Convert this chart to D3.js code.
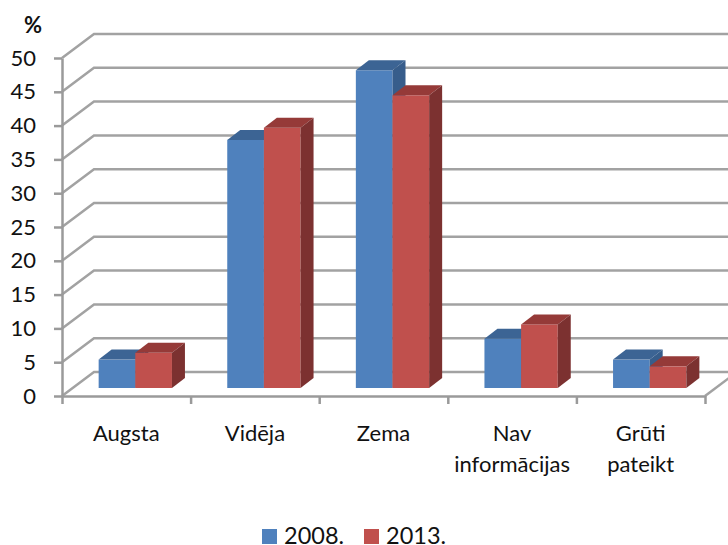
<!DOCTYPE html>
<html>
<head>
<meta charset="utf-8">
<script src="https://cdn.jsdelivr.net/npm/d3@7"></script>
<style>
body { margin: 0; background: #fff; }
svg { display: block; }
text { font-family: Lato, "Open Sans", sans-serif; fill: #111; }
.domain, .tick line { stroke: #9a9a9a; stroke-width: 2.5; }
.grid { stroke: #a2a2a2; stroke-width: 2.5; fill: none; }
</style>
</head>
<body>
<div id="chart"></div>
<script>
// data
var categories = [["Augsta"], ["Vidēja"], ["Zema"], ["Nav", "informācijas"], ["Grūti", "pateikt"]];
var seriesNames = ["2008.", "2013."];
var values2008 = [4.2, 36.7, 47.0, 7.3, 4.2];
var values2013 = [5.2, 38.5, 43.3, 9.4, 3.2];
var yTicks = [0, 5, 10, 15, 20, 25, 30, 35, 40, 45, 50];

var colors = [
  {front: "#4f81bd", top: "#3c6494", side: "#375d8b"},
  {front: "#c0504d", top: "#953a38", side: "#7c3130"}
];

var margin = {top: 58, left: 62},
    width = 643,
    height = 338;

// 3d offsets: wall depth, bar depth, and where the bars stand on the floor
var wall = {dx: 32, dy: -24},
    barDepth = {dx: 13, dy: -10},
    barPos = {dx: 9, dy: -8};

var svg = d3.select("#chart").append("svg")
    .attr("width", 728)
    .attr("height", 545);
var g = svg.append("g")
    .attr("transform", "translate(" + margin.left + "," + margin.top + ")");

var names = categories.map(function(d) { return d.join(" "); });
var x = d3.scaleBand().domain(names).range([0, width]);
var xEdge = d3.scaleLinear().domain([0, names.length]).range([0, width]);
var y = d3.scaleLinear().domain([0, 50]).range([height, 0]);
var inner = d3.scaleBand().domain(seriesNames).range([x.bandwidth() * 0.215, x.bandwidth() * 0.785]);

// walls
yTicks.forEach(function(t) {
  g.append("polyline").attr("class", "grid")
    .attr("points", [[0, y(t)], [wall.dx, y(t) + wall.dy], [width + wall.dx, y(t) + wall.dy]].join(" "));
});
g.append("line").attr("class", "grid")
  .attr("x1", width).attr("y1", height)
  .attr("x2", width + wall.dx).attr("y2", height + wall.dy);

// axes
var yAxis = d3.axisLeft(y).tickValues(yTicks).tickSize(8).tickSizeOuter(0).tickPadding(18);
g.append("g").call(yAxis)
  .selectAll("text").style("font-size", "22px");

var xAxis = d3.axisBottom(xEdge).tickValues(d3.range(names.length + 1))
    .tickFormat("").tickSize(8).tickSizeOuter(0);
g.append("g").attr("transform", "translate(0," + height + ")").call(xAxis);

// category labels
g.selectAll(".cat").data(categories).enter().append("text")
    .attr("class", "cat")
    .attr("text-anchor", "middle")
    .style("font-size", "22px")
    .attr("transform", function(d) {
      return "translate(" + (x(d.join(" ")) + x.bandwidth() / 2) + "," + (height + 45) + ")";
    })
  .selectAll("tspan").data(function(d) { return d; }).enter().append("tspan")
    .attr("x", 0)
    .attr("dy", function(d, i) { return i ? 31 : 0; })
    .text(function(d) { return d; });

// bars
[values2008, values2013].forEach(function(vals, s) {
  var bw = inner.bandwidth(), c = colors[s];
  var bars = g.selectAll(".bar" + s).data(vals).enter().append("g")
      .attr("class", "bar" + s)
      .attr("transform", function(d, i) {
        return "translate(" + (x(names[i]) + inner(seriesNames[s]) + barPos.dx) + "," + barPos.dy + ")";
      });
  bars.append("rect")
      .attr("y", function(d) { return y(d); })
      .attr("width", bw)
      .attr("height", function(d) { return height - y(d); })
      .attr("fill", c.front);
  bars.append("polygon")
      .attr("fill", c.top)
      .attr("points", function(d) {
        var t = y(d);
        return [[0, t], [barDepth.dx, t + barDepth.dy], [bw + barDepth.dx, t + barDepth.dy], [bw, t]].join(" ");
      });
  bars.append("polygon")
      .attr("fill", c.side)
      .attr("points", function(d) {
        var t = y(d);
        return [[bw, t], [bw + barDepth.dx, t + barDepth.dy], [bw + barDepth.dx, height + barDepth.dy], [bw, height]].join(" ");
      });
});

// axis title
svg.append("text").attr("x", 33).attr("y", 33)
    .attr("text-anchor", "middle")
    .style("font-size", "22px").style("font-weight", "bold")
    .text("%");

// legend
var legend = svg.selectAll(".legend").data(seriesNames).enter().append("g")
    .attr("class", "legend")
    .attr("transform", function(d, i) { return "translate(" + (262 + i * 102) + ",529)"; });
legend.append("rect").attr("width", 15).attr("height", 15)
    .attr("fill", function(d, i) { return colors[i].front; });
legend.append("text").attr("x", 22).attr("y", 15)
    .style("font-size", "23.5px")
    .text(function(d) { return d; });
</script>
</body>
</html>
